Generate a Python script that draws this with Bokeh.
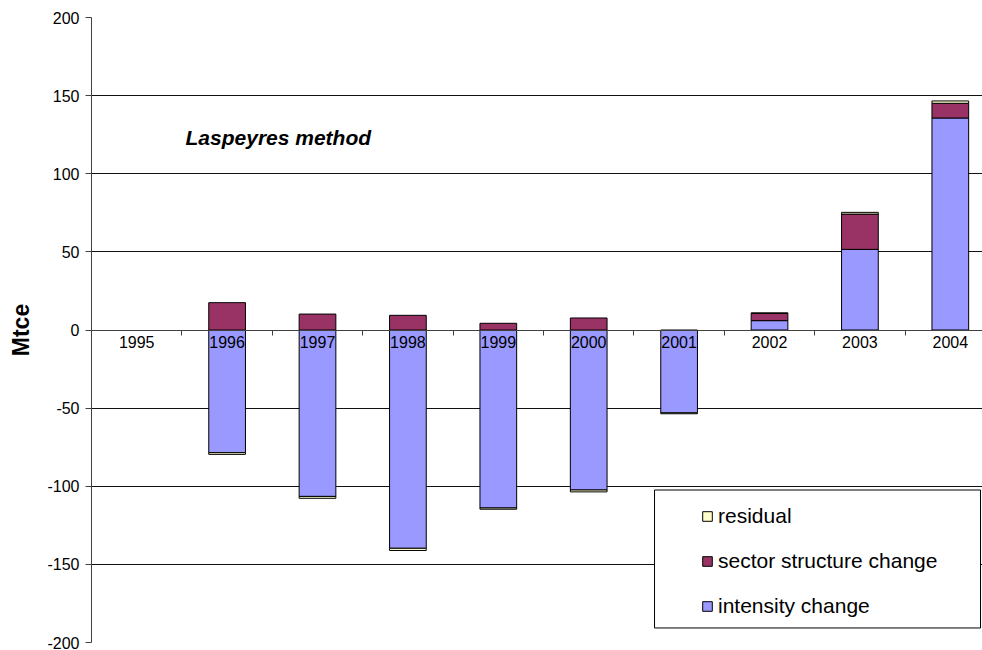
import numpy as np
from bokeh.plotting import figure
from bokeh.models import (Range1d, FixedTicker, LinearAxis, Legend, LegendItem,
                          Label, BoxAnnotation, ColumnDataSource)
from bokeh.embed import file_html
from bokeh.resources import INLINE

# ---- data ----
years = ["1995", "1996", "1997", "1998", "1999", "2000", "2001", "2002", "2003", "2004"]
intensity = [0.0, -78.5, -106.5, -139.7, -113.9, -102.4, -53.0, 6.0, 51.6, 135.7]
sector = [0.0, 17.5, 10.2, 9.4, 4.3, 7.7, 0.0, 4.6, 22.6, 9.4]
residual = [0.0, -1.1, -1.2, -1.4, -0.8, -1.2, -0.6, 0.4, 1.1, 1.5]
y_ticks = [-200, -150, -100, -50, 0, 50, 100, 150, 200]

series = [("intensity change", intensity, "#9999FF"),
          ("sector structure change", sector, "#993366"),
          ("residual", residual, "#FFFFCC")]

FONT = "Liberation Sans"
n = len(years)
centers = np.arange(n) + 0.5

p = figure(width=982, height=650, output_backend="svg", toolbar_location=None,
           x_range=Range1d(0, 9.856), y_range=Range1d(-200, 200),
           min_border_left=91, min_border_right=0, min_border_top=17, min_border_bottom=8,
           outline_line_color=None, background_fill_color="white")

# stacked bars (positives up, negatives down)
pos = np.zeros(n)
neg = np.zeros(n)
renderers = {}
for name, vals, color in series:
    v = np.array(vals)
    bottom = np.where(v >= 0, pos, neg)
    top = bottom + v
    pos = np.where(v >= 0, top, pos)
    neg = np.where(v < 0, top, neg)
    keep = v != 0
    src = ColumnDataSource(dict(x=centers[keep], bottom=bottom[keep], top=top[keep]))
    r = p.vbar(x="x", width=0.406, bottom="bottom", top="top", source=src,
               fill_color=color, line_color="black", line_width=1)
    renderers[name] = r

# grid
p.xgrid.visible = False
p.ygrid.ticker = FixedTicker(ticks=y_ticks)
p.ygrid.grid_line_color = "#111111"
p.ygrid.grid_line_width = 1

# y axis
ya = p.yaxis[0]
ya.ticker = FixedTicker(ticks=y_ticks)
ya.major_label_overrides = {t: str(t) for t in y_ticks}
ya.axis_line_color = "#404040"
ya.major_tick_line_color = "#404040"
ya.major_tick_out = 6
ya.major_tick_in = 0
ya.minor_tick_line_color = None
ya.major_label_text_font = FONT
ya.major_label_text_font_size = "16px"
ya.major_label_text_color = "black"
ya.major_label_standoff = 6
ya.axis_label = "Mtce"
ya.axis_label_text_font = FONT
ya.axis_label_text_font_size = "23px"
ya.axis_label_text_font_style = "bold"
ya.axis_label_text_color = "black"
ya.axis_label_standoff = 10

# x axis (tick marks at category boundaries) crossing at y=0
xa = p.xaxis[0]
xa.fixed_location = 0
xa.ticker = FixedTicker(ticks=list(range(n + 1)))
xa.axis_line_color = "#404040"
xa.major_tick_line_color = "#404040"
xa.major_tick_out = 5
xa.major_tick_in = 0
xa.minor_tick_line_color = None
xa.major_label_text_color = None

# category labels at centers
xl = LinearAxis(fixed_location=0,
                ticker=FixedTicker(ticks=list(centers)),
                major_label_overrides={float(c): y for c, y in zip(centers, years)},
                axis_line_color=None, major_tick_line_color=None,
                minor_tick_line_color=None, major_label_standoff=0,
                major_label_text_font=FONT, major_label_text_font_size="16px",
                major_label_text_color="black")
p.add_layout(xl, "below")

# title label
p.add_layout(Label(x=1.04, y=122.9, text="Laspeyres method", text_font=FONT,
                   text_font_size="21px", text_font_style="bold italic",
                   text_baseline="alphabetic", text_color="black"))

# legend box
p.add_layout(BoxAnnotation(left=6.228, right=9.834, top=-102.4, bottom=-190.7,
                           fill_color="white", fill_alpha=1.0,
                           line_color="black", line_width=1, line_alpha=1.0))

legend = Legend(items=[LegendItem(label="residual", renderers=[renderers["residual"]]),
                       LegendItem(label="sector structure change", renderers=[renderers["sector structure change"]]),
                       LegendItem(label="intensity change", renderers=[renderers["intensity change"]])],
                location=(610, 24), padding=0, margin=0, spacing=21,
                glyph_width=12, glyph_height=12, label_standoff=5,
                label_text_font=FONT, label_text_font_size="21px",
                label_text_color="black",
                background_fill_alpha=0, border_line_color=None)
p.add_layout(legend)

open("out.html", "w").write(file_html(p, INLINE))
